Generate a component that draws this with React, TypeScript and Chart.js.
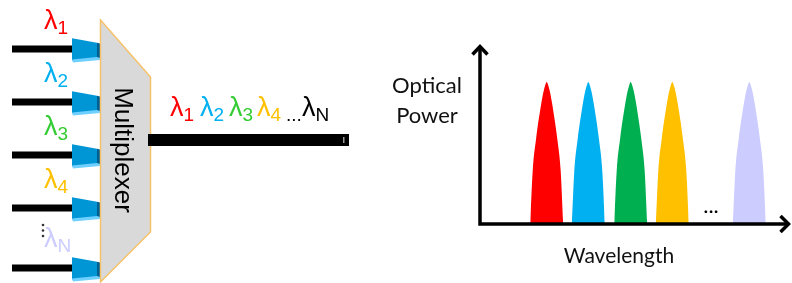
import React, { useEffect, useRef } from "react";
import { Chart, registerables } from "chart.js";

Chart.register(...registerables);

// ---- data ----
const channelSubscripts = ["1", "2", "3", "4", "N"];
const channelWavelengths = [66.7, 108.3, 150.7, 192.3, 269.3]; // a.u. along wavelength axis
const channelPowers = [1, 1, 1, 1, 1]; // normalised optical power
const peakColors = ["#ff0000", "#00b0f0", "#00b050", "#ffc000", "#ccccff"];
const labelColors = ["#ff0000", "#00b0f0", "#33cc33", "#ffc000", "#ccccff"];
// shape of one spectral line (offset in a.u., level relative to peak)
const peakOffsets = [-16.5, -14, -10.5, -5.5, -3.5, -2, 0, 2, 3.5, 5.5, 10.5, 14, 16.5];
const peakLevels = [0, 0.373, 0.606, 0.845, 0.923, 0.965, 1, 0.965, 0.923, 0.845, 0.606, 0.373, 0];
const xAxisTitle = "Wavelength";
const yAxisTitle = ["Optical", "Power"];
const deviceTitle = "Multiplexer";

const SANS = '"Liberation Sans", Arial, sans-serif';
const CAL = 'Lato, "Open Sans", sans-serif';

function drawLambda(ctx: CanvasRenderingContext2D, x: number, baseline: number, sub: string, color: string) {
  ctx.fillStyle = color;
  ctx.textAlign = "left";
  ctx.textBaseline = "alphabetic";
  ctx.font = `27px ${SANS}`;
  ctx.fillText("λ", x, baseline);
  const w = ctx.measureText("λ").width;
  ctx.font = `19px ${SANS}`;
  ctx.fillText(sub, x + w, baseline + 5);
}

function poly(ctx: CanvasRenderingContext2D, pts: number[][], fill: string) {
  ctx.beginPath();
  ctx.moveTo(pts[0][0], pts[0][1]);
  for (let i = 1; i < pts.length; i++) ctx.lineTo(pts[i][0], pts[i][1]);
  ctx.closePath();
  ctx.fillStyle = fill;
  ctx.fill();
}

const diagramPlugin = {
  id: "diagram",
  afterDraw(chart: any) {
    const ctx: CanvasRenderingContext2D = chart.ctx;
    ctx.save();
    // input fibres and couplers
    const fibreY = [49, 102, 155, 208, 268];
    fibreY.forEach((fy) => {
      ctx.strokeStyle = "#000";
      ctx.lineWidth = 7;
      ctx.beginPath();
      ctx.moveTo(12, fy);
      ctx.lineTo(73, fy);
      ctx.stroke();
      const cy = fy + 1;
      poly(ctx, [[72, cy - 11.7], [97, cy - 7.2], [97, cy + 8], [72, cy + 10.5]], "#0096d6");
      poly(ctx, [[97, cy - 7.2], [100, cy - 6.5], [100, cy + 8.5], [97, cy + 8]], "#005f91");
      poly(ctx, [[72, cy + 9.5], [97, cy + 7], [100, cy + 8], [100, cy + 10], [73, cy + 12.5]], "#6fd0ff");
    });
    // multiplexer body
    ctx.beginPath();
    ctx.moveTo(100.5, 20);
    ctx.lineTo(150.5, 77);
    ctx.lineTo(150.5, 232);
    ctx.lineTo(100.5, 282);
    ctx.closePath();
    ctx.fillStyle = "#d9d9d9";
    ctx.fill();
    ctx.strokeStyle = "#f5c26b";
    ctx.lineWidth = 1.5;
    ctx.stroke();
    // rotated title
    ctx.save();
    ctx.translate(115, 150);
    ctx.rotate(Math.PI / 2);
    ctx.fillStyle = "#000";
    ctx.font = `26px ${SANS}`;
    ctx.textAlign = "center";
    ctx.textBaseline = "alphabetic";
    ctx.fillText(deviceTitle, 0, 0);
    ctx.restore();
    // output fibre
    ctx.fillStyle = "#000";
    ctx.fillRect(148, 134, 201, 12);
    ctx.fillStyle = "#9a9a9a";
    ctx.fillRect(343, 137, 1.5, 6);
    // input labels
    const labelBase = [29, 82, 135, 188, 247];
    channelSubscripts.forEach((s, i) => drawLambda(ctx, 44, labelBase[i], s, labelColors[i]));
    // vertical dots above λN
    ctx.fillStyle = "#333";
    [225, 230.5, 236].forEach((y) => {
      ctx.beginPath();
      ctx.arc(43, y, 1.3, 0, Math.PI * 2);
      ctx.fill();
    });
    // output label
    const outX = [170, 200, 229, 257];
    for (let i = 0; i < 4; i++) drawLambda(ctx, outX[i], 116, channelSubscripts[i], labelColors[i]);
    ctx.fillStyle = "#000";
    ctx.font = `19px ${SANS}`;
    ctx.textAlign = "left";
    ctx.fillText("...", 286, 121);
    drawLambda(ctx, 302, 116, channelSubscripts[4], "#000");

    // spectrum axes with arrow heads
    const xs = chart.scales.x;
    const ys = chart.scales.y;
    const x0 = xs.left;
    const y0 = ys.bottom;
    const xEnd = xs.right;
    const yEnd = ys.top;
    ctx.strokeStyle = "#000";
    ctx.lineWidth = 3.5;
    ctx.lineCap = "butt";
    ctx.lineJoin = "miter";
    ctx.beginPath();
    ctx.moveTo(x0, y0 + 1.75);
    ctx.lineTo(x0, yEnd + 1);
    ctx.moveTo(x0 - 1.75, y0);
    ctx.lineTo(xEnd - 1, y0);
    ctx.stroke();
    ctx.beginPath();
    ctx.moveTo(x0 - 7.5, yEnd + 9.5);
    ctx.lineTo(x0, yEnd + 1.5);
    ctx.lineTo(x0 + 7.5, yEnd + 9.5);
    ctx.moveTo(xEnd - 9.5, y0 - 8);
    ctx.lineTo(xEnd - 1.5, y0);
    ctx.lineTo(xEnd - 9.5, y0 + 8);
    ctx.stroke();
    // ellipsis between channels
    ctx.fillStyle = "#000";
    ctx.font = `22px ${CAL}`;
    ctx.textAlign = "center";
    ctx.fillText("...", xs.getPixelForValue(231), 213);
    // axis titles
    ctx.fillStyle = "#111";
    ctx.font = `22px ${CAL}`;
    ctx.fillText(yAxisTitle[0], 427, 93);
    ctx.fillText(yAxisTitle[1], 427, 123);
    ctx.font = `21px ${CAL}`;
    ctx.fillText(xAxisTitle, 619, 263);
    ctx.restore();
  },
};

export default function App() {
  const ref = useRef<HTMLCanvasElement>(null);
  useEffect(() => {
    if (!ref.current) return;
    const datasets = channelWavelengths.map((c, i) => ({
      label: "λ" + channelSubscripts[i],
      data: peakOffsets.map((o, k) => ({ x: c + o, y: peakLevels[k] * channelPowers[i] })),
      backgroundColor: peakColors[i],
      borderColor: peakColors[i],
      borderWidth: 0,
      pointRadius: 0,
      fill: "origin",
      cubicInterpolationMode: "monotone" as const,
    }));
    const chart = new Chart(ref.current, {
      type: "line",
      data: { datasets },
      options: {
        responsive: false,
        animation: false,
        devicePixelRatio: 1,
        events: [],
        layout: { padding: { left: 480, right: 2, top: 45, bottom: 59 } },
        plugins: { legend: { display: false }, tooltip: { enabled: false } },
        scales: {
          x: { type: "linear", min: 0, max: 310, display: false },
          y: { type: "linear", min: 0, max: 1.26, display: false },
        },
      },
      plugins: [diagramPlugin],
    });
    return () => chart.destroy();
  }, []);
  return (
    <div style={{ position: "fixed", left: 0, top: 0, width: 792, height: 283, background: "#fff" }}>
      <canvas ref={ref} width={792} height={283} style={{ display: "block" }} />
    </div>
  );
}
